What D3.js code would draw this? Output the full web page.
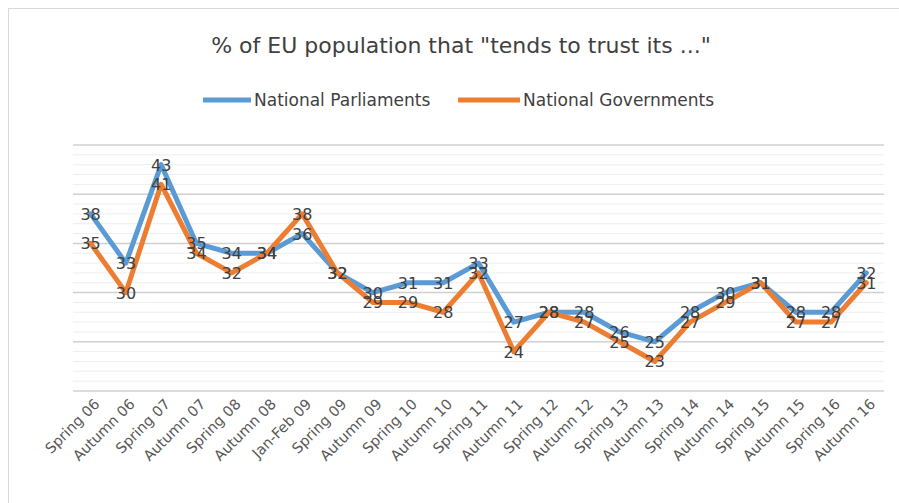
<!DOCTYPE html>
<html>
<head>
<meta charset="utf-8">
<script src="https://cdn.jsdelivr.net/npm/d3@7"></script>
<style>
  body { margin: 0; background: #fff; }
  svg { font-family: "DejaVu Sans", "Open Sans", sans-serif; }
</style>
</head>
<body>
<svg width="899" height="503"></svg>
<script>
const categories = ['Spring 06', 'Autumn 06', 'Spring 07', 'Autumn 07', 'Spring 08', 'Autumn 08',
  'Jan-Feb 09', 'Spring 09', 'Autumn 09', 'Spring 10', 'Autumn 10', 'Spring 11', 'Autumn 11',
  'Spring 12', 'Autumn 12', 'Spring 13', 'Autumn 13', 'Spring 14', 'Autumn 14', 'Spring 15',
  'Autumn 15', 'Spring 16', 'Autumn 16'];
const parliaments = [38, 33, 43, 35, 34, 34, 36, 32, 30, 31, 31, 33, 27, 28, 28, 26, 25, 28, 30, 31, 28, 28, 32];
const governments = [35, 30, 41, 34, 32, 34, 38, 32, 29, 29, 28, 32, 24, 28, 27, 25, 23, 27, 29, 31, 27, 27, 31];
const seriesNames = ['National Parliaments', 'National Governments'];
const colors = ['#5B9BD5', '#ED7D31'];

const svg = d3.select('svg');
const margin = { top: 145, right: 15, bottom: 112, left: 73 };
const width = +svg.attr('width') - margin.left - margin.right;
const height = +svg.attr('height') - margin.top - margin.bottom;

// chart frame
svg.append('rect')
  .attr('x', 8.5).attr('y', 8.5)
  .attr('width', 900).attr('height', 500)
  .attr('fill', 'none').attr('stroke', '#d9d9d9');

svg.append('text')
  .attr('x', 461).attr('y', 53)
  .attr('text-anchor', 'middle')
  .attr('font-size', 22)
  .attr('fill', '#404040')
  .text('% of EU population that "tends to trust its ..."');

// legend
const legendX = [203, 458];
seriesNames.forEach((name, i) => {
  const lg = svg.append('g').attr('transform', `translate(${legendX[i]},100)`);
  lg.append('line').attr('x1', 0).attr('x2', i ? 62 : 48)
    .attr('stroke', colors[i]).attr('stroke-width', 5);
  lg.append('text').attr('x', i ? 65 : 51).attr('y', 6)
    .attr('font-size', 17).attr('fill', '#404040').text(name);
});

const g = svg.append('g').attr('transform', `translate(${margin.left},${margin.top})`);

const x = d3.scaleBand().domain(categories).range([0, width]);
const y = d3.scaleLinear().domain([20, 45]).range([height, 0]);
const cx = d => x(d) + x.bandwidth() / 2;

// gridlines, darker every 5
g.append('g')
  .selectAll('line')
  .data(d3.range(20, 46, 1))
  .join('line')
  .attr('x1', 0).attr('x2', width)
  .attr('y1', d => y(d)).attr('y2', d => y(d))
  .attr('stroke', d => d % 5 === 0 ? '#d0d0d0' : '#eeeeee')
  .attr('stroke-width', d => d % 5 === 0 ? 1.5 : 1);

// x axis labels
const xAxis = g.append('g')
  .attr('transform', `translate(0,${height})`)
  .call(d3.axisBottom(x).tickSize(0).tickPadding(0));
xAxis.select('.domain').remove();
xAxis.selectAll('text')
  .attr('font-family', '"DejaVu Sans", sans-serif')
  .attr('font-size', 14.5)
  .attr('fill', '#595959')
  .attr('text-anchor', 'end')
  .attr('dy', 0)
  .attr('transform', 'translate(10,14) rotate(-45)');

const line = d3.line()
  .x((d, i) => cx(categories[i]))
  .y(d => y(d));

const data = [parliaments, governments];
data.forEach((vals, s) => {
  g.append('path')
    .datum(vals)
    .attr('fill', 'none')
    .attr('stroke', colors[s])
    .attr('stroke-width', 5)
    .attr('stroke-linejoin', 'round')
    .attr('stroke-linecap', 'round')
    .attr('d', line);
});

data.forEach(vals => {
  g.append('g')
    .selectAll('text')
    .data(vals)
    .join('text')
    .attr('x', (d, i) => cx(categories[i]))
    .attr('y', d => y(d) + 6)
    .attr('text-anchor', 'middle')
    .attr('font-size', 16)
    .attr('fill', '#404040')
    .text(d => d);
});
</script>
</body>
</html>
